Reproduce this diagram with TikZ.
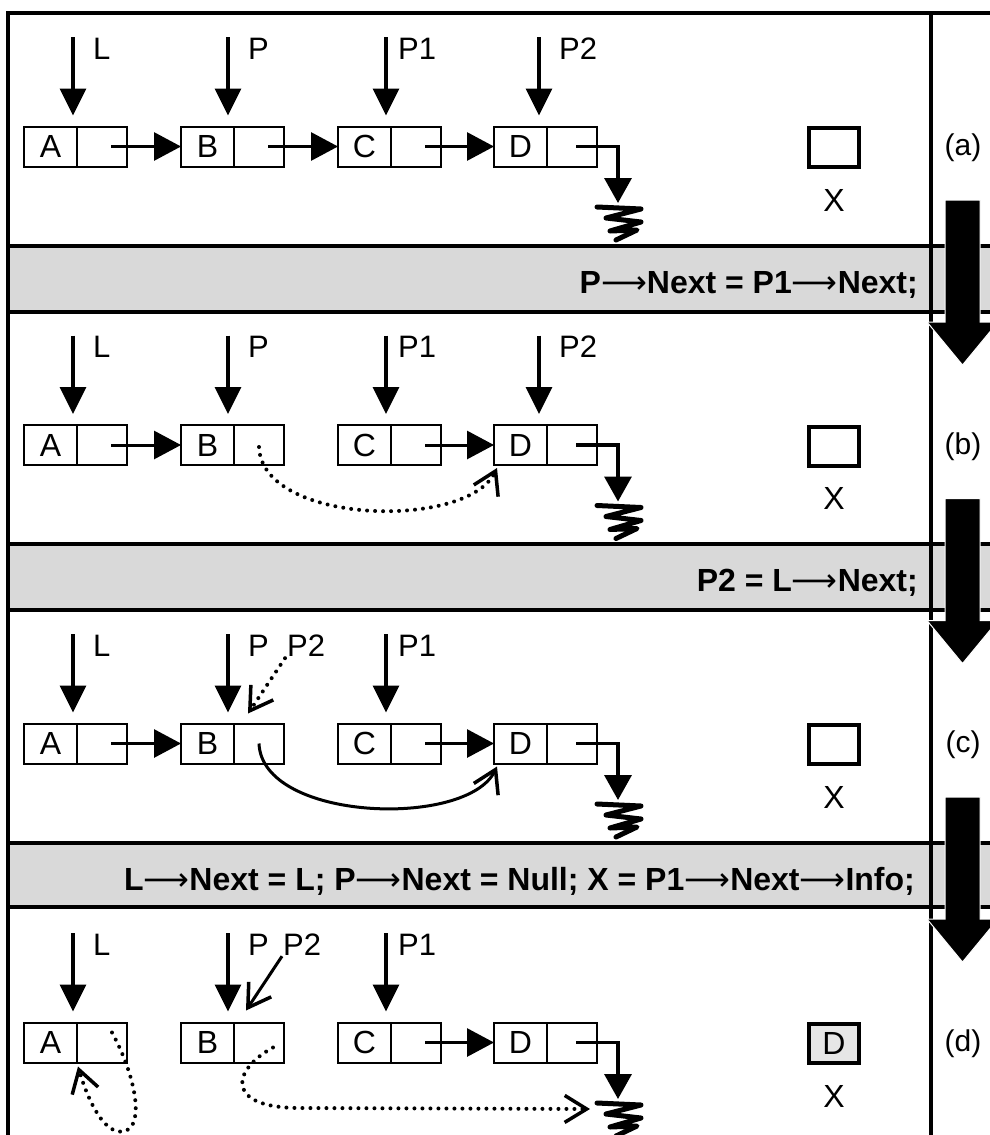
\documentclass[tikz,border=0pt]{standalone}
\usepackage{fontspec}
\setmainfont{Liberation Sans}
\newfontfamily\arrowfont{DejaVu Sans}
\usetikzlibrary{arrows.meta}
\definecolor{bandgray}{HTML}{D9D9D9}
\definecolor{xfill}{HTML}{E6E6E6}
\newcommand\lar{{\arrowfont\mdseries\char"27F6}}
\newcommand\mkboxes[1]{%
  \node[lcell] (#1A) at (50.5,146.5) {A};
  \node[rcell] (#1Ar) at (#1A.east) {};
  \node[lcell] (#1B) at (207.5,146.5) {B};
  \node[rcell] (#1Br) at (#1B.east) {};
  \node[lcell] (#1C) at (364.5,146.5) {C};
  \node[rcell] (#1Cr) at (#1C.east) {};
  \node[lcell] (#1D) at (520.5,146.5) {D};
  \node[rcell] (#1Dr) at (#1D.east) {};
}
\tikzset{gnd/.pic={\draw[ground] (-21,4) -- (23,6) -- (-12,15) -- (23,19) -- (-8,28) -- (19,27) -- (-2,37);}}
\begin{document}
\begin{tikzpicture}[x=1pt,y=-1pt,
  frame/.style={line width=4pt},
  lcell/.style={draw, line width=2pt, minimum width=53pt, minimum height=40pt, inner sep=0pt, outer sep=0pt, font=\fontsize{32}{32}\selectfont},
  rcell/.style={draw, line width=2pt, minimum width=50pt, minimum height=40pt, inner sep=0pt, outer sep=0pt, anchor=west},
  lbl/.style={inner sep=0pt, font=\fontsize{31}{31}\selectfont, anchor=base west},
  ptr/.style={line width=3.5pt, -{Triangle[length=27pt,width=26pt]}, shorten >=11pt},
  lnk/.style={line width=3pt, -{Triangle[length=27pt,width=28pt]}},
  nul/.style={line width=3.5pt, -{Triangle[length=25pt,width=27pt]}},
  barb/.style={-{Straight Barb[length=22pt,width=27pt,line width=3.5pt]}},
  dots/.style={line width=4pt, line cap=round, dash pattern=on 0pt off 8pt},
  solidc/.style={line width=3pt},
  xbox/.style={draw, line width=4pt, minimum width=50pt, minimum height=39pt, inner sep=0pt, outer sep=0pt, font=\fontsize{32}{32}\selectfont},
  xlbl/.style={inner sep=0pt, font=\fontsize{32}{32}\selectfont},
  seclbl/.style={inner sep=0pt, font=\fontsize{30}{30}\selectfont},
  code/.style={inner sep=0pt, anchor=base east, font=\fontsize{32}{32}\selectfont\bfseries},
  ground/.style={line width=5pt, line join=round, line cap=round},
  bigarrow/.style={fill=black, draw=white, line width=1pt}
]
\useasboundingbox (0,0) rectangle (990,1135);
% bands
\fill[bandgray] (8,246) rectangle (990,312);
\fill[bandgray] (8,544) rectangle (990,610);
\fill[bandgray] (8,843) rectangle (990,907);
\foreach \yy in {246,312,544,610,843,907} \draw[frame] (8,\yy) -- (990,\yy);
\draw[frame] (8,1135) -- (8,13) -- (990,13);
\draw[frame] (931,13) -- (931,1135);
% code lines
\node[code] (t1) at (918,293) {P\lar Next = P1\lar Next;};
\node[code] (t2) at (918,591) {P2 = L\lar Next;};
\node[code] (t3) at (915,890) {L\lar Next = L; P\lar Next = Null; X = P1\lar Next\lar Info;};
% big arrows
\foreach \k in {0,298.5,597}
  \draw[bigarrow] (945,200+\k) -- (980,200+\k) -- (980,322+\k) -- (998,322+\k) -- (962.5,365+\k) -- (927,322+\k) -- (945,322+\k) -- cycle;

% ---------- section (a)
\mkboxes{a}
\coordinate (aLt) at (73,37); \coordinate (aPt) at (228,37);
\coordinate (aP1t) at (386,37); \coordinate (aP2t) at (539,37);
\draw[ptr] (aLt) -- (aLt |- aA.north);
\draw[ptr] (aPt) -- (aPt |- aB.north);
\draw[ptr] (aP1t) -- (aP1t |- aC.north);
\draw[ptr] (aP2t) -- (aP2t |- aD.north);
\node[lbl] (aLl) at (93,59) {L};
\node[lbl] (aPl) at (248,59) {P};
\node[lbl] (aP1l) at (398,59) {P1};
\node[lbl] (aP2l) at (559,59) {P2};
\draw[lnk] ([xshift=9pt]aAr.center) -- (aB.west);
\draw[lnk] ([xshift=9pt]aBr.center) -- (aC.west);
\draw[lnk] ([xshift=9pt]aCr.center) -- (aD.west);
\coordinate (aG) at (618,203);
\draw[nul] ([xshift=4pt]aDr.center) -| (aG);
\pic at (aG) {gnd};
\node[xbox] (aX) at (834,147.5) {};
\node[xlbl] (aXl) at (834,200) {X};
\node[seclbl] (aS) at (963,148) {(a)};

% ---------- section (b)
\begin{scope}[shift={(0,298.5)}]
\mkboxes{b}
\coordinate (bLt) at (73,37); \coordinate (bPt) at (228,37);
\coordinate (bP1t) at (386,37); \coordinate (bP2t) at (539,37);
\draw[ptr] (bLt) -- (bLt |- bA.north);
\draw[ptr] (bPt) -- (bPt |- bB.north);
\draw[ptr] (bP1t) -- (bP1t |- bC.north);
\draw[ptr] (bP2t) -- (bP2t |- bD.north);
\node[lbl] (bLl) at (93,59) {L};
\node[lbl] (bPl) at (248,59) {P};
\node[lbl] (bP1l) at (398,59) {P1};
\node[lbl] (bP2l) at (559,59) {P2};
\draw[lnk] ([xshift=9pt]bAr.center) -- (bB.west);
\draw[lnk] ([xshift=9pt]bCr.center) -- (bD.west);
\draw[dots, barb] ([yshift=-2pt]bBr.center) .. controls +(3,78) and +(-30,62) .. ([shift={(3,3)}]bD.south west);
\coordinate (bG) at (618,203);
\draw[nul] ([xshift=4pt]bDr.center) -| (bG);
\pic at (bG) {gnd};
\node[xbox] (bX) at (834,147.5) {};
\node[xlbl] (bXl) at (834,200) {X};
\node[seclbl] (bS) at (963,148) {(b)};
\end{scope}

% ---------- section (c)
\begin{scope}[shift={(0,597)}]
\mkboxes{c}
\coordinate (cLt) at (73,37); \coordinate (cPt) at (228,37);
\coordinate (cP1t) at (386,37);
\draw[ptr] (cLt) -- (cLt |- cA.north);
\draw[ptr] (cPt) -- (cPt |- cB.north);
\draw[ptr] (cP1t) -- (cP1t |- cC.north);
\node[lbl] (cLl) at (93,59) {L};
\node[lbl] (cPl) at (248,59) {P};
\node[lbl] (cP2l) at (287,59) {P2};
\node[lbl] (cP1l) at (398,59) {P1};
\draw[dots, barb] ([shift={(-2,2)}]cP2l.south west) -- ([shift={(14,-10)}]cB.north east);
\draw[lnk] ([xshift=9pt]cAr.center) -- (cB.west);
\draw[lnk] ([xshift=9pt]cCr.center) -- (cD.west);
\draw[solidc, barb] (cBr.center) .. controls +(3,78) and +(-30,62) .. ([shift={(3,3)}]cD.south west);
\coordinate (cG) at (618,203);
\draw[nul] ([xshift=4pt]cDr.center) -| (cG);
\pic at (cG) {gnd};
\node[xbox] (cX) at (834,147.5) {};
\node[xlbl] (cXl) at (834,200) {X};
\node[seclbl] (cS) at (963,148) {(c)};
\end{scope}

% ---------- section (d)
\begin{scope}[shift={(0,896)}]
\mkboxes{d}
\coordinate (dLt) at (73,37); \coordinate (dPt) at (228,37);
\coordinate (dP1t) at (386,37);
\draw[ptr] (dLt) -- (dLt |- dA.north);
\draw[ptr] (dPt) -- (dPt |- dB.north);
\draw[ptr] (dP1t) -- (dP1t |- dC.north);
\node[lbl] (dLl) at (93,59) {L};
\node[lbl] (dPl) at (248,59) {P};
\node[lbl] (dP2l) at (283,59) {P2};
\node[lbl] (dP1l) at (398,59) {P1};
\draw[line width=3pt, barb] ([shift={(-1,1)}]dP2l.south west) -- ([shift={(12,-12)}]dB.north east);
\draw[lnk] ([xshift=9pt]dCr.center) -- (dD.west);
\coordinate (dG) at (618,203);
\coordinate (dGl) at (590,213);
\draw[nul] ([xshift=4pt]dDr.center) -| (dG);
\pic at (dG) {gnd};
\draw[dots, barb] ([shift={(10,-10)}]dAr.center) .. controls +(23,42) and +(20,-6) .. (125,235) .. controls +(-20,6) and +(10,34) .. ([shift={(1,4)}]dA.south east);
\coordinate (dM) at (300,212);
\draw[dots, barb] ([shift={(14,5)}]dBr.center) .. controls +(-42,23) and +(-75,0) .. (dM) -- (dGl);
\node[xbox, fill=xfill] (dX) at (834,147.5) {D};
\node[xlbl] (dXl) at (834,200) {X};
\node[seclbl] (dS) at (963,148) {(d)};
\end{scope}
\end{tikzpicture}
\end{document}
